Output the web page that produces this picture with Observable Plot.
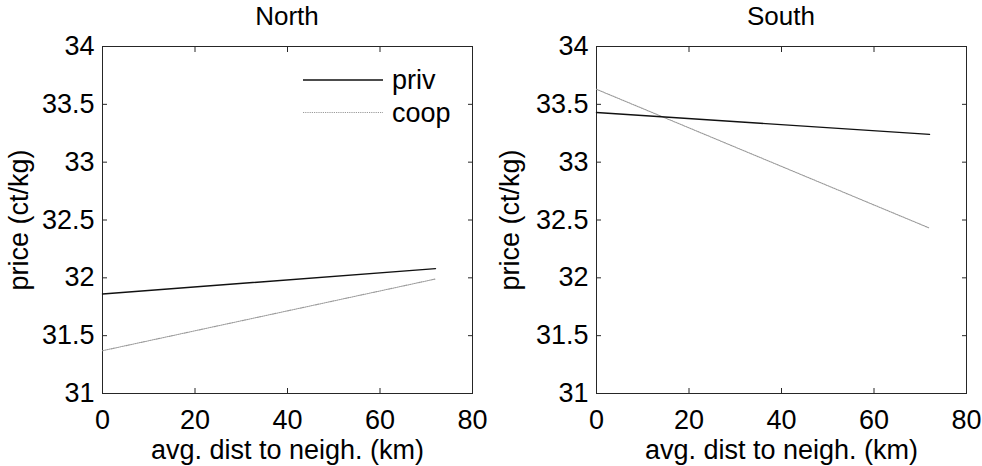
<!DOCTYPE html>
<html>
<head>
<meta charset="utf-8">
<script src="https://cdn.jsdelivr.net/npm/d3@7"></script>
<script src="https://cdn.jsdelivr.net/npm/@observablehq/plot@0.6"></script>
<style>
  html, body { margin: 0; padding: 0; background: #fff; }
  #wrap { position: relative; width: 982px; height: 466px; overflow: hidden; font-family: "Liberation Sans", Arial, sans-serif; }
  .panel { position: absolute; top: 0; }
  .title { position: absolute; top: 0; font-size: 26px; line-height: 32px; text-align: center; color: #000; }
  .legend { position: absolute; }
</style>
</head>
<body>
<div id="wrap"></div>
<script>
// ---- data ----
const dist = [0, 72];
const northPriv = [31.86, 32.08];
const northCoop = [31.37, 31.99];
const southPriv = [33.43, 33.24];
const southCoop = [33.63, 32.43];
const panels = ["North", "South"];
const seriesNames = ["priv", "coop"];
const xTicks = [0, 20, 40, 60, 80];
const yTicks = [31, 31.5, 32, 32.5, 33, 33.5, 34];

const seriesData = {
  North: {priv: northPriv, coop: northCoop},
  South: {priv: southPriv, coop: southCoop}
};

function rows(panel, name) {
  return dist.map((d, i) => ({dist: d, price: seriesData[panel][name][i], series: name}));
}

const W = 491, H = 466;
const frameColor = "#262626";
const coopColor = "#9a9a9a";
const font = '"Liberation Sans", Arial, sans-serif';

const layouts = {
  North: {left: 0, marginLeft: 102, marginRight: 19},
  South: {left: 491, marginLeft: 105, marginRight: 16}
};

const wrap = document.getElementById("wrap");

for (const panel of panels) {
  const L = layouts[panel];
  const chart = Plot.plot({
    width: W,
    height: H,
    marginLeft: L.marginLeft,
    marginRight: L.marginRight,
    marginTop: 46,
    marginBottom: 73,
    style: {fontFamily: font, fontSize: "27px", color: "#000", background: "transparent", overflow: "visible"},
    x: {domain: [0, 80]},
    y: {domain: [31, 34]},
    marks: [
      Plot.frame({stroke: frameColor, strokeWidth: 1}),
      // tick labels + inward ticks
      Plot.axisX({anchor: "bottom", ticks: xTicks, tickSize: -5, tickPadding: 21, stroke: frameColor,
        tickFormat: d => String(d), fill: "#000", fontSize: 27, label: null}),
      Plot.axisX({anchor: "top", ticks: xTicks, tickSize: -5, stroke: frameColor, tickFormat: () => "", label: null}),
      Plot.axisY({anchor: "left", ticks: yTicks, tickSize: -5, tickPadding: 13, stroke: frameColor,
        tickFormat: d => String(d), fill: "#000", fontSize: 27, label: null}),
      Plot.axisY({anchor: "right", ticks: yTicks, tickSize: -5, stroke: frameColor, tickFormat: () => "", label: null}),
      // axis titles
      Plot.axisX({anchor: "bottom", ticks: xTicks, tickSize: 0, stroke: "none", tickFormat: () => "", fill: "#000", fontSize: 27,
        label: "avg. dist to neigh. (km)", labelAnchor: "center", labelArrow: "none", labelOffset: 65}),
      Plot.axisY({anchor: "left", ticks: yTicks, tickSize: 0, stroke: "none", tickFormat: () => "", fill: "#000", fontSize: 27,
        label: "price (ct/kg)", labelAnchor: "center", labelArrow: "none", labelOffset: L.marginLeft - 8}),
      Plot.line(rows(panel, "coop"), {x: "dist", y: "price", stroke: coopColor, strokeWidth: 1.1, strokeDasharray: "1.2,1"}),
      Plot.line(rows(panel, "priv"), {x: "dist", y: "price", stroke: "#111", strokeWidth: 1.4})
    ]
  });
  const div = document.createElement("div");
  div.className = "panel";
  div.style.left = L.left + "px";
  div.appendChild(chart);
  wrap.appendChild(div);

  const t = document.createElement("div");
  t.className = "title";
  t.textContent = panel;
  t.style.left = (L.left + L.marginLeft) + "px";
  t.style.width = (W - L.marginLeft - L.marginRight) + "px";
  wrap.appendChild(t);
}

// legend (North panel)
const ns = "http://www.w3.org/2000/svg";
const leg = document.createElementNS(ns, "svg");
leg.setAttribute("width", 170);
leg.setAttribute("height", 70);
leg.setAttribute("class", "legend");
leg.style.left = "295px";
leg.style.top = "60px";
const legStyles = {
  priv: {stroke: "#111", width: 1.4, dash: null},
  coop: {stroke: coopColor, width: 1.1, dash: "1.2,1"}
};
seriesNames.forEach((name, i) => {
  const y = 20 + i * 32.5;
  const ln = document.createElementNS(ns, "line");
  ln.setAttribute("x1", 8); ln.setAttribute("x2", 88);
  ln.setAttribute("y1", y); ln.setAttribute("y2", y);
  ln.setAttribute("stroke", legStyles[name].stroke);
  ln.setAttribute("stroke-width", legStyles[name].width);
  if (legStyles[name].dash) ln.setAttribute("stroke-dasharray", legStyles[name].dash);
  leg.appendChild(ln);
  const tx = document.createElementNS(ns, "text");
  tx.setAttribute("x", 97);
  tx.setAttribute("y", y + 9);
  tx.setAttribute("font-family", font);
  tx.setAttribute("font-size", 27);
  tx.textContent = name;
  leg.appendChild(tx);
});
wrap.appendChild(leg);
</script>
</body>
</html>
